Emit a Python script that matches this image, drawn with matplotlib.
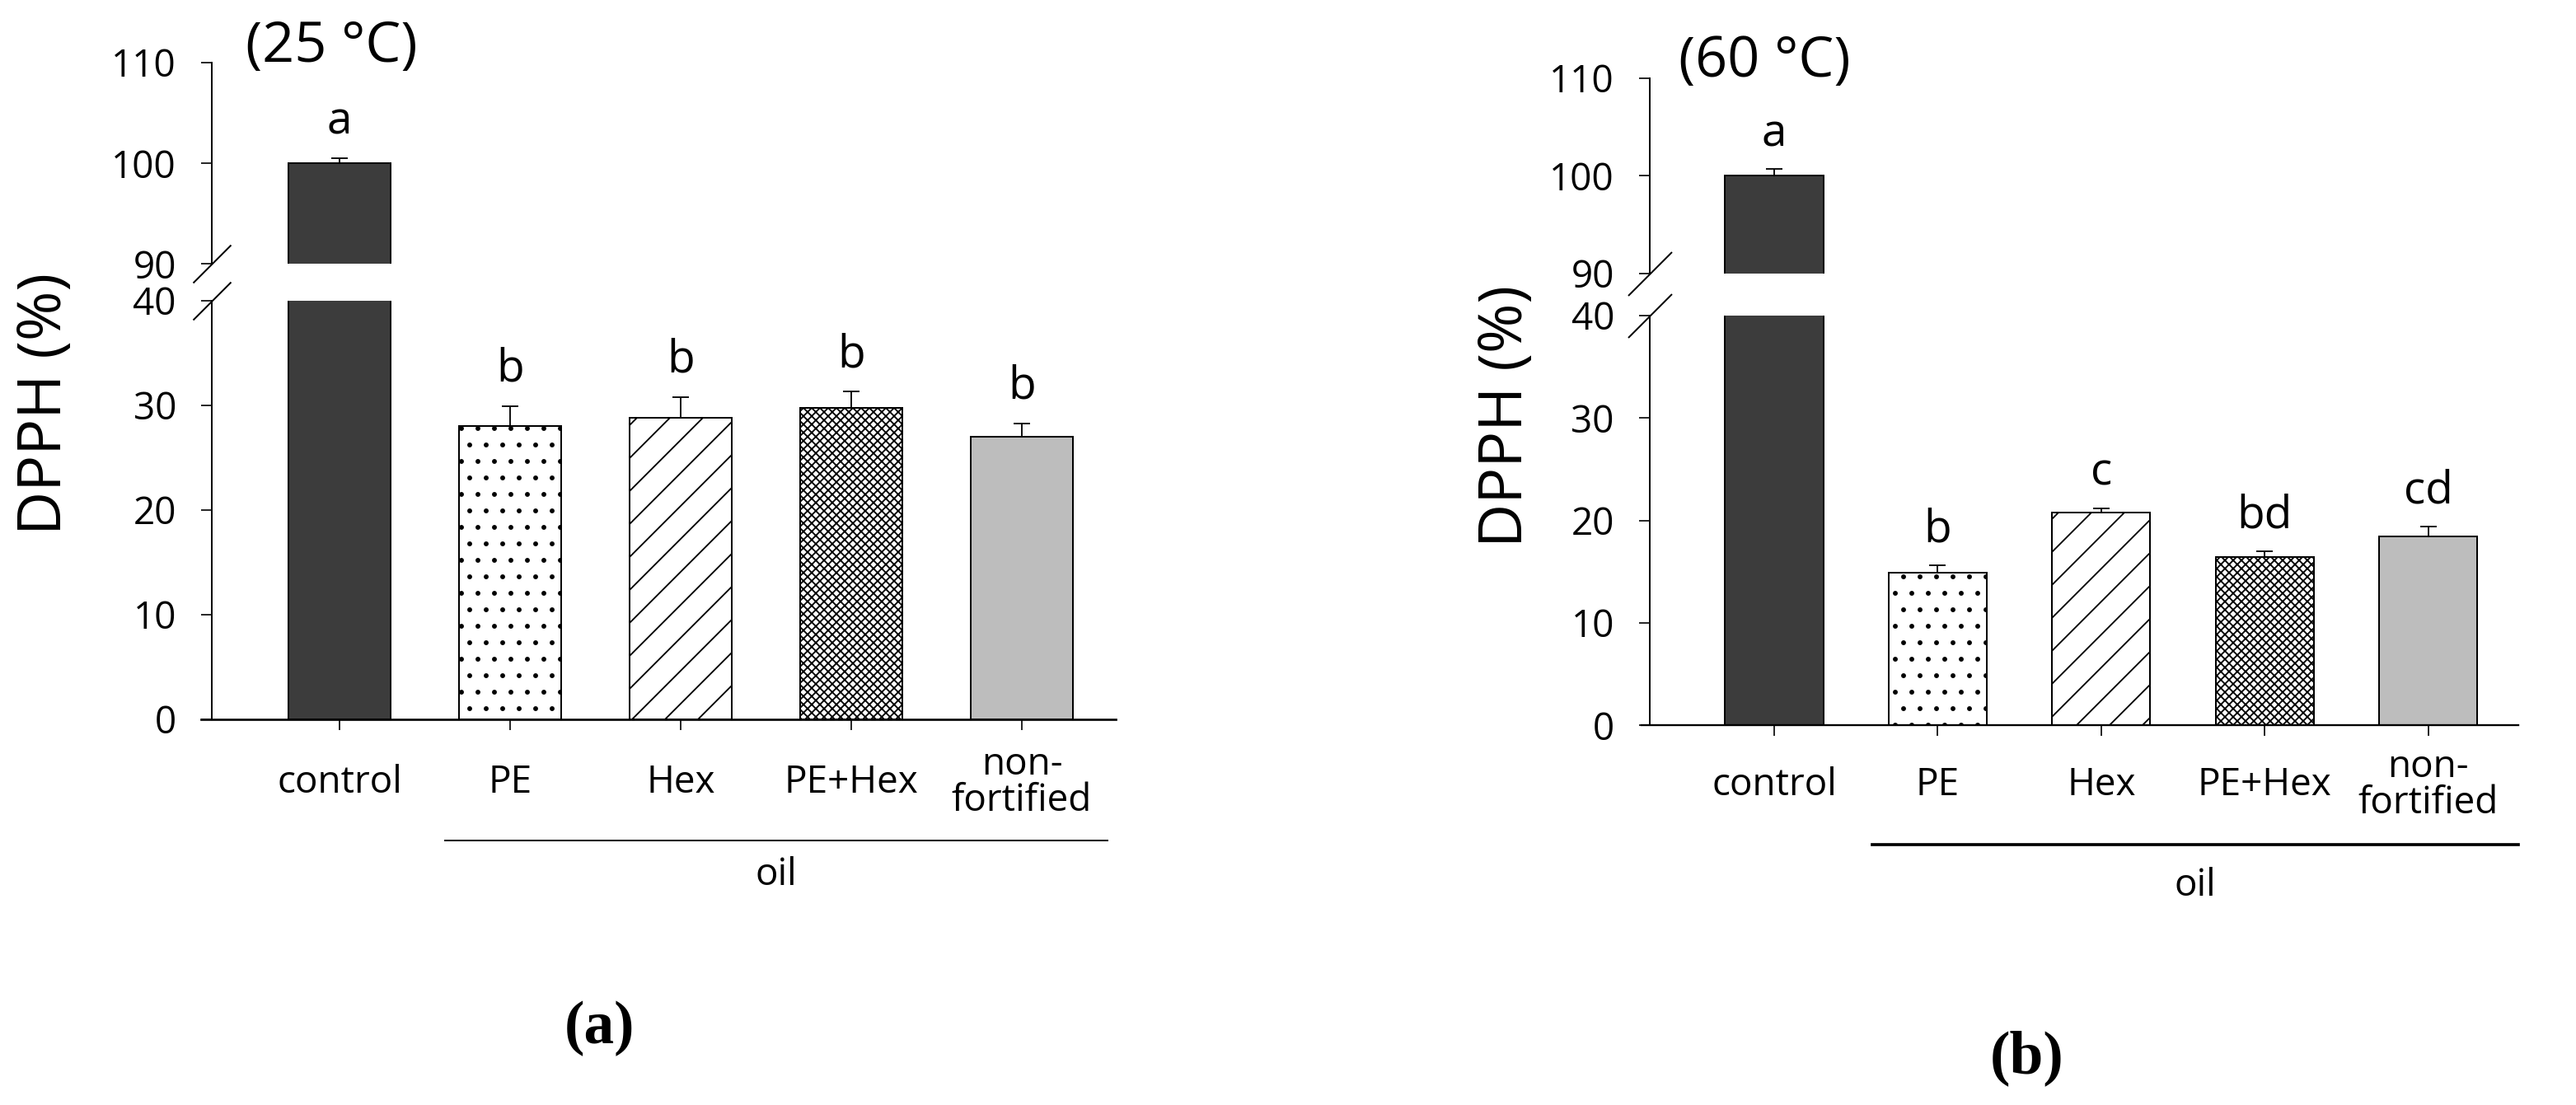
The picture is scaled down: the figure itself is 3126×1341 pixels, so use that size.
import numpy as np
import matplotlib
matplotlib.use("Agg")
import matplotlib.pyplot as plt

# data
categories = ["control", "PE", "Hex", "PE+Hex", "non-\nfortified"]

dpph_25 = [100.0, 28.0, 28.8, 29.8, 27.0]
err_25 = [0.5, 1.9, 2.0, 1.5, 1.3]
letters_25 = ["a", "b", "b", "b", "b"]

dpph_60 = [100.0, 14.9, 20.8, 16.4, 18.4]
err_60 = [0.7, 0.7, 0.4, 0.6, 1.0]
letters_60 = ["a", "b", "c", "bd", "cd"]

bar_colors = ["#3c3c3c", "white", "white", "white", "#bdbdbd"]
bar_hatches = ["", ".", "/", "xxxx", ""]

W, H, DPI = 3126, 1341, 120
plt.rcParams['font.family'] = ['Open Sans', 'DejaVu Sans']
plt.rcParams['hatch.linewidth'] = 1.1

fig = plt.figure(figsize=(W / DPI, H / DPI), dpi=DPI)


def pt(px):
    return px * 72 / DPI


def panel(vals, errs, letters, title, caption, lay):
    pos = np.arange(len(vals))
    x0, sp = lay['x0'], lay['sp']
    xl = (lay['xleft'] - x0) / sp
    xr = lay['xright']
    xs = (lay['yspine'] - x0) / sp
    ax_l = x0 + xl * sp
    ax_r = x0 + xr * sp
    lt, lb = lay['lo']
    ut, ub = lay['up']
    lo = fig.add_axes([ax_l / W, 1 - lb / H, (ax_r - ax_l) / W, (lb - lt) / H])
    up = fig.add_axes([ax_l / W, 1 - ub / H, (ax_r - ax_l) / W, (ub - ut) / H])

    for ax in (lo, up):
        bars = ax.bar(pos, vals, width=0.6, color=bar_colors, edgecolor='k', linewidth=1.2, zorder=2)
        for b, h in zip(bars, bar_hatches):
            b.set_hatch(h)
        ax.errorbar(pos, vals, yerr=[np.zeros(len(vals)), errs], fmt='none', ecolor='k',
                    elinewidth=1.1, capsize=pt(10), capthick=1.1, zorder=3)
        ax.set_xlim(xl, xr)
        ax.spines[['top', 'right']].set_visible(False)
        ax.spines['left'].set_position(('data', xs))
        ax.spines['left'].set_linewidth(1.2)
        ax.tick_params(axis='y', direction='out', length=pt(13), width=1.0,
                       labelsize=27.5, pad=pt(30))
    lo.set_ylim(0, 40)
    lo.set_yticks([0, 10, 20, 30, 40])
    up.set_ylim(90, 110)
    up.set_yticks([90, 100, 110])
    up.spines['bottom'].set_visible(False)
    up.set_xticks([])
    lo.spines['bottom'].set_linewidth(lay['xlw'])
    lo.set_xticks(pos)
    lo.set_xticklabels([])
    lo.tick_params(axis='x', direction='out', length=pt(13), width=1.0)

    def ydat(ypx):
        return 40 * (lb - ypx) / (lb - lt)

    for i, c in enumerate(categories):
        lo.text(i, ydat(lay['lab_y']), c, ha='center', va='center', fontsize=27.5,
                linespacing=0.95, clip_on=False)

    for i, (v, e, s) in enumerate(zip(vals, errs, letters)):
        top = v + e
        ax = up if top > 40 else lo
        ax.text(i, top + lay['loff'], s, ha='center', va='baseline', fontsize=33)

    # axis break marks
    for ax, yb in ((lo, 40), (up, 90)):
        ax.plot([xs], [yb], marker=[(-1, -1), (1, 1)], markersize=pt(lay['brk']),
                mew=1.2, color='k', ls='none', clip_on=False)

    # oil bracket line
    lo.plot(lay['oil_x'], [ydat(lay['oil_line'])] * 2, color='k', lw=lay['oil_lw'], clip_on=False)
    lo.text(np.mean(lay['oil_x']), ydat(lay['oil_txt']), "oil", ha='center', va='center',
            fontsize=27.5)

    fig.text(lay['title'][0] / W, 1 - lay['title'][1] / H, title, ha='center', va='center',
             fontsize=41)
    fig.text(lay['ylab'][0] / W, 1 - lay['ylab'][1] / H, "DPPH (%)", rotation=90,
             ha='center', va='center', fontsize=44)
    fig.text(lay['cap'][0] / W, 1 - lay['cap'][1] / H, caption, ha='center', va='center',
             fontsize=44, fontweight='bold', family=['Liberation Serif', 'DejaVu Serif'])


panel(dpph_25, err_25, letters_25, "(25 °C)", "(a)",
      dict(x0=412, sp=207, xleft=244, yspine=257, xright=4.55, lo=(365, 873), up=(76, 320),
           lab_y=950, loff=2.4, brk=46, oil_x=[0.62, 4.5], oil_line=1020, oil_txt=1062,
           oil_lw=1.2, xlw=1.6, title=(402, 57), ylab=(55, 490), cap=(727, 1248)))

panel(dpph_60, err_60, letters_60, "(60 °C)", "(b)",
      dict(x0=2153, sp=198.4, xleft=1992, yspine=2002, xright=4.55, lo=(383, 880), up=(95, 332),
           lab_y=953, loff=2.3, brk=53, oil_x=[0.6, 4.55], oil_line=1025, oil_txt=1075,
           oil_lw=2.2, xlw=1.4, title=(2141, 75), ylab=(1828, 505), cap=(2460, 1284)))

fig.savefig("out.png", dpi=DPI)
